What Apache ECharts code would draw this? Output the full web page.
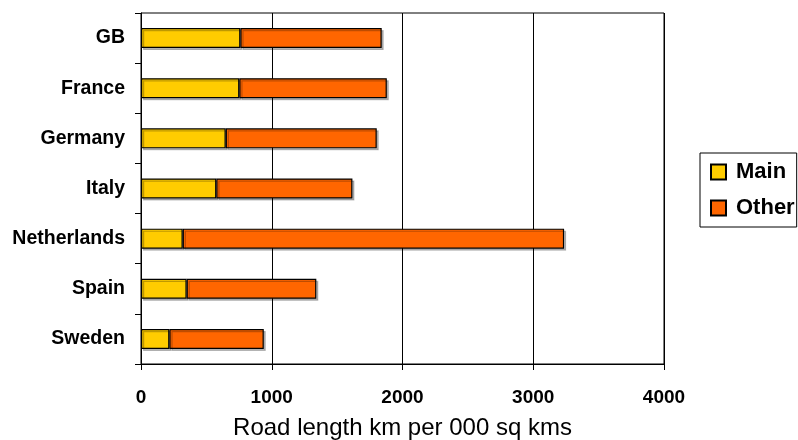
<!DOCTYPE html>
<html>
<head>
<meta charset="utf-8">
<script src="https://cdn.jsdelivr.net/npm/echarts@6/dist/echarts.min.js"></script>
<style>
  html, body { margin: 0; padding: 0; background: #fff; }
  #chart { width: 798px; height: 440px; }
</style>
</head>
<body>
<div id="chart"></div>
<script>
// Road length per thousand square km, split into main and other roads
const countries = ['GB', 'France', 'Germany', 'Italy', 'Netherlands', 'Spain', 'Sweden'];
const mainRoads = [760, 752, 648, 576, 319, 349, 217];
const otherRoads = [1081, 1128, 1155, 1041, 2917, 992, 722];
const xTicks = [0, 1000, 2000, 3000, 4000];

const FONT = '"Liberation Sans", Arial, sans-serif';

const barStyle = (color) => ({
  color: color,
  borderColor: '#000',
  borderWidth: 1.2,
  shadowColor: 'rgba(0,0,0,0.25)',
  shadowOffsetX: 2,
  shadowOffsetY: 2,
  shadowBlur: 0
});

const chart = echarts.init(document.getElementById('chart'), null, { renderer: 'canvas' });
chart.setOption({
  animation: false,
  backgroundColor: '#fff',
  grid: {
    left: 141, right: 134, top: 13, bottom: 76,
    outerBoundsMode: 'none',
    containLabel: false,
    show: true, borderColor: '#000', borderWidth: 1
  },
  legend: {
    orient: 'vertical',
    left: 700, top: 153,
    padding: [8, 2, 8, 10],
    itemGap: 14,
    itemWidth: 15, itemHeight: 15,
    icon: 'rect',
    borderColor: '#000', borderWidth: 1,
    textStyle: { fontFamily: FONT, fontWeight: 'bold', fontSize: 22, color: '#000', padding: [0, 0, 0, 5] },
    data: ['Main', 'Other']
  },
  xAxis: {
    type: 'value',
    min: xTicks[0], max: xTicks[xTicks.length - 1], interval: 1000,
    name: 'Road length km per 000 sq kms',
    nameLocation: 'middle', nameGap: 52,
    nameTextStyle: { fontFamily: FONT, fontSize: 24, color: '#000' },
    axisLine: { show: true, lineStyle: { color: '#000', width: 1 } },
    axisTick: { show: true, length: 6, lineStyle: { color: '#000' } },
    axisLabel: {
      fontFamily: FONT, fontWeight: 'bold', fontSize: 19, color: '#000', margin: 24,
      formatter: (v) => String(v)
    },
    splitLine: { show: true, lineStyle: { color: '#000', width: 1 } }
  },
  yAxis: {
    type: 'category',
    inverse: true,
    data: countries,
    axisLine: { show: true, lineStyle: { color: '#000', width: 1 } },
    axisTick: { show: true, length: 6, lineStyle: { color: '#000' } },
    axisLabel: { fontFamily: FONT, fontWeight: 'bold', fontSize: 19.5, color: '#000', margin: 16 }
  },
  series: [
    {
      name: 'Main', type: 'bar', stack: 'road',
      barWidth: 20,
      data: mainRoads,
      itemStyle: barStyle('#FFCC00')
    },
    {
      name: 'Other', type: 'bar', stack: 'road',
      barWidth: 20,
      data: otherRoads,
      itemStyle: barStyle('#FF6600')
    }
  ]
});
</script>
</body>
</html>
